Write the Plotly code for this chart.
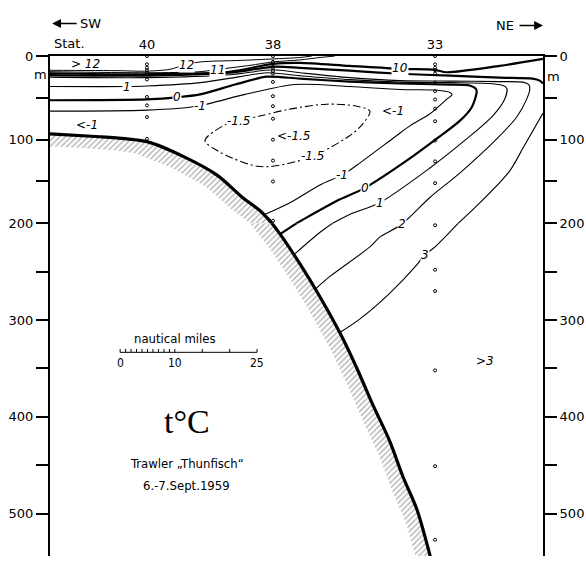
import plotly.graph_objects as go

# ---------------- data (x: nautical miles from left edge, depth: m) ----------------
stations = ["40", "38", "33"]
station_x = [17.7, 40.7, 70.3]
st40_depths = [0, 10, 14, 17, 20, 28, 49, 59, 73, 99]
st38_depths = [0, 7, 10, 14, 18, 21, 31, 48, 60, 75, 100, 125, 150, 197]
st33_depths = [0, 10, 14, 17, 21, 32, 42, 52, 63, 78, 101, 126, 152, 202, 248, 270, 352, 451, 527]

sea_x = [0, 9.1, 13.7, 17.7, 24.3, 30.5, 35.2, 38.3, 42.0, 45.6, 48.9, 52.9, 56.0, 58.9, 62.0, 64.4, 67.0, 69.5]
sea_d = [93, 96.5, 98.8, 102.4, 120, 142.4, 169.4, 184.7, 211.2, 241.7, 272.2, 312.9, 349.5, 387.2, 424.8, 461.4, 496, 546]

iso12_x = [0, 12.8, 17.3, 21.9, 24.6, 27.4, 34.7, 40.7, 45.6, 47.8]
iso12_d = [17.1, 17.6, 18.2, 15.9, 10.6, 7.1, 5.3, 3.5, 1.8, 0]

iso11_x = [0, 17.7, 27.4, 30.1, 36.5, 40.7, 45.6, 49.3, 52.0]
iso11_d = [18.8, 20.0, 18.8, 16.5, 11.2, 7.1, 4.7, 1.8, 0]

iso10_x = [0, 17.7, 32.8, 40.7, 45.6, 54.7, 63.9, 70.3, 72.4, 82.1, 90]
iso10_d = [20.6, 21.8, 18.8, 9.4, 8.2, 11.8, 15.3, 16.5, 19.4, 11.8, 3.5]

iso3a_x = [0, 17.7, 32.8, 40.7, 45.6, 54.7, 63.9, 73.0, 82.1, 88.1, 89.4, 90]
iso3a_d = [22.9, 23.5, 20.0, 12.9, 14.1, 17.6, 21.2, 23.5, 25.9, 27.1, 29.4, 32.9]

iso3b_x = [90, 86.3, 83.9, 78.5, 70.3, 68.4, 67.0, 62.0, 56.6, 52.9]
iso3b_d = [68.2, 110.6, 137.6, 175.3, 224.4, 232.6, 242.7, 272.3, 298.7, 312.9]

iso2_x = [0, 17.7, 32.8, 40.7, 45.6, 54.7, 63.9, 73.0, 82.1, 86.3, 87.4, 87.6, 87.0, 85.2,
          81.6, 74.8, 69.3, 64.2, 60.2, 58.4, 51.1, 48.4]
iso2_d = [25.3, 25.9, 22.4, 16.5, 20.0, 25.9, 29.4, 30.0, 30.6, 31.2, 34.1, 38.8, 51.8, 72.9,
          98.8, 140.0, 169.4, 201.0, 214.2, 224.4, 254.9, 268.2]

iso1_x = [0, 14.1, 17.7, 27.4, 34.7, 39.6, 45.6, 54.7, 63.9, 73.0, 80.3, 82.7, 83.4, 83.0,
          80.8, 76.1, 69.3, 60.2, 54.7, 49.8, 44.7]
iso1_d = [36.5, 36.5, 35.9, 31.8, 24.7, 20.0, 23.5, 28.2, 31.2, 31.8, 32.9, 35.3, 38.8, 51.8,
          71.8, 98.8, 134.1, 175.3, 189.4, 207.1, 231.5]

iso0_x = [0, 17.7, 23.2, 27.4, 33.8, 39.6, 45.6, 54.7, 63.9, 73.0, 76.6, 77.7, 77.9, 77.0,
          74.8, 70.6, 65.7, 57.5, 52.4, 46.9, 42.0]
iso0_d = [52.9, 51.8, 49.4, 45.9, 34.1, 24.7, 27.1, 30.6, 32.9, 34.1, 35.3, 38.8, 42.4, 61.2,
          77.6, 98.8, 122.4, 157.6, 172.9, 192.9, 211.2]

isom1_x = [0, 17.7, 26.8, 35.6, 44.7, 54.7, 63.9, 71.2, 73.0, 73.4, 72.4, 69.3, 65.7, 63.0,
           56.0, 53.3, 49.3, 43.8, 39.2]
isom1_d = [65.9, 64.7, 60.0, 45.9, 34.1, 36.5, 40.0, 41.2, 43.5, 45.9, 51.8, 69.4, 83.5, 96.5,
           130.6, 142.4, 154.1, 175.3, 189.4]

isom15_x = [28.3, 32.3, 38.3, 43.8, 50.5, 56.0, 58.4, 57.1, 54.7, 48.0, 45.1, 40.7, 37.8, 33.4, 30.5, 28.3]
isom15_d = [101.2, 81.2, 71.8, 63.5, 57.6, 60.0, 65.9, 81.2, 95.3, 120.0, 125.9, 131.8, 131.8, 122.4, 112.9, 101.2]

# contour labels: (text, x, depth, on-line?)
iso_labels = [
    ("&gt; 12", 6.4, 9.4, False),
    ("12", 25.0, 10.6, True),
    ("11", 30.5, 16.5, True),
    ("10", 63.9, 14.1, True),
    ("1", 14.1, 36.5, True),
    ("0", 23.2, 49.4, True),
    ("-1", 27.4, 60.0, True),
    ("&lt;-1", 6.8, 82.4, False),
    ("-1.5", 34.5, 77.6, True),
    ("&lt;-1.5", 44.5, 95.3, False),
    ("-1.5", 48.0, 120.0, True),
    ("&lt;-1", 62.6, 65.9, False),
    ("-1", 53.3, 142.4, True),
    ("0", 57.5, 157.6, True),
    ("1", 60.2, 175.3, True),
    ("2", 64.2, 201.0, True),
    ("3", 68.4, 232.6, True),
    ("&gt;3", 79.4, 342.6, False),
]

scale_ticks_nm = [0, 1, 2, 3, 4, 5, 6, 7, 8, 9, 10, 15, 20, 25]
scale_labels = ["0", "10", "25"]
scale_label_nm = [0, 10, 25]

depth_ticks_top = [0, 50, 100, 150, 200]
depth_text_top = ["0", "", "100", "", "200"]
depth_ticks_bot = [250, 300, 350, 400, 450, 500]
depth_text_bot = ["", "300", "", "400", "", "500"]

# ---------------- figure ----------------
TOP_D = [200, 0]
BOT_D = [543.8, 200]
SPLIT = 338 / 508

fig = go.Figure()


def both(x, y, **kw):
    for ax in ("y", "y2"):
        fig.add_trace(go.Scatter(x=x, y=y, yaxis=ax, xaxis="x", hoverinfo="skip",
                                 showlegend=False, **kw))


# hatched sea-floor band
band_dx, band_dd = -2.0, 14.0
band_x = sea_x + [v + band_dx for v in sea_x[::-1]]
band_d = sea_d + [v + band_dd for v in sea_d[::-1]]
both(band_x, band_d, mode="lines", line=dict(width=0, color="rgba(0,0,0,0)"),
     fill="toself", fillcolor="rgba(0,0,0,0)",
     fillpattern=dict(shape="/", fgcolor="#666666", bgcolor="white", size=4, solidity=0.35))

thin = dict(color="black", width=1.1, shape="spline", smoothing=0.8)
thick = dict(color="black", width=2.2, shape="spline", smoothing=0.8)

both(iso12_x, iso12_d, mode="lines", line=dict(thin, width=1.0))
both(iso11_x, iso11_d, mode="lines", line=dict(thin, width=1.0))
both(iso10_x, iso10_d, mode="lines", line=thick)
both(iso3a_x, iso3a_d, mode="lines", line=thick)
both(iso3b_x, iso3b_d, mode="lines", line=thin)
both(iso2_x, iso2_d, mode="lines", line=thin)
both(iso1_x, iso1_d, mode="lines", line=thin)
both(iso0_x, iso0_d, mode="lines", line=thick)
both(isom1_x, isom1_d, mode="lines", line=thin)
both(isom15_x, isom15_d, mode="lines",
     line=dict(color="black", width=1.1, shape="spline", smoothing=0.9, dash="8px,3px,2px,3px"))

# sea floor
both(sea_x, sea_d, mode="lines", line=dict(color="black", width=3.2, shape="spline", smoothing=0.8))

# station sample dots (on the right overlay axes)
for sx, depths in zip(station_x, [st40_depths, st38_depths, st33_depths]):
    for ax in ("y3", "y4"):
        fig.add_trace(go.Scatter(x=[sx] * len(depths), y=depths, yaxis=ax, xaxis="x",
                                 mode="markers", hoverinfo="skip", showlegend=False,
                                 marker=dict(symbol="circle-open", size=3, color="black",
                                             line=dict(width=1, color="black"))))

# scale bar
bar_x0, bar_d, tick_h = 12.8, 333.3, 3.5
sb_x = [bar_x0, bar_x0 + scale_ticks_nm[-1]]
sb_d = [bar_d, bar_d]
fig.add_trace(go.Scatter(x=sb_x, y=sb_d, yaxis="y2", mode="lines", hoverinfo="skip",
                         showlegend=False, line=dict(color="black", width=1)))
tx, td = [], []
for t in scale_ticks_nm:
    tx += [bar_x0 + t, bar_x0 + t, None]
    td += [bar_d, bar_d - tick_h, None]
fig.add_trace(go.Scatter(x=tx, y=td, yaxis="y2", mode="lines", hoverinfo="skip",
                         showlegend=False, line=dict(color="black", width=1)))

anns = []
lab_font = dict(family="DejaVu Sans", size=12, color="black", style="italic")
for text, x, d, online in iso_labels:
    anns.append(dict(x=x, y=d, xref="x", yref="y" if d <= 200 else "y2", text=text,
                     showarrow=False, font=lab_font, yanchor="middle",
                     bgcolor="white" if online else None, borderpad=0))

cond = "DejaVu Sans Condensed, DejaVu Sans"
for lbl, v in zip(scale_labels, scale_label_nm):
    anns.append(dict(x=bar_x0 + v, y=344.5, xref="x", yref="y2", text=lbl, showarrow=False,
                     yanchor="middle", font=dict(family=cond, size=12)))
anns.append(dict(x=bar_x0 + 10, y=319, xref="x", yref="y2", text="nautical miles",
                 showarrow=False, yanchor="middle", font=dict(family=cond, size=13)))
anns.append(dict(x=25.0, y=404.5, xref="x", yref="y2", text="t°C", showarrow=False,
                 yanchor="middle", font=dict(family="Liberation Serif, DejaVu Serif", size=34)))
anns.append(dict(x=25.0, y=448.3, xref="x", yref="y2", text="Trawler „Thunfisch“",
                 showarrow=False, yanchor="middle", font=dict(family=cond, size=13)))
anns.append(dict(x=25.0, y=470.7, xref="x", yref="y2", text="6.-7.Sept.1959",
                 showarrow=False, yanchor="middle", font=dict(family=cond, size=13)))

hdr = dict(family="DejaVu Sans", size=13, color="black")
anns += [
    dict(x=0.4, y=1.0256, xref="x", yref="paper", text="Stat.", showarrow=False,
         xanchor="left", yanchor="middle", font=hdr),
    dict(x=0.4, y=1.065, xref="x", yref="paper", text="", showarrow=True, ax=26, ay=0,
         arrowhead=2, arrowsize=1.1, arrowwidth=1.6, arrowcolor="black"),
    dict(x=5.2, y=1.065, xref="x", yref="paper", text="SW", showarrow=False,
         xanchor="left", yanchor="middle", font=hdr),
    dict(x=90, y=1.061, xref="x", yref="paper", text="", showarrow=True, ax=-25, ay=0,
         arrowhead=2, arrowsize=1.1, arrowwidth=1.6, arrowcolor="black"),
    dict(x=85.0, y=1.061, xref="x", yref="paper", text="NE", showarrow=False,
         xanchor="right", yanchor="middle", font=hdr),
    dict(x=-0.036, y=0.964, xref="paper", yref="paper", text="m", showarrow=False,
         yanchor="middle", font=hdr),
    dict(x=1.039, y=0.960, xref="paper", yref="paper", text="m", showarrow=False,
         yanchor="middle", font=hdr),
]

yax_common = dict(showline=True, linewidth=2, linecolor="black", ticks="outside", ticklen=12,
                  tickwidth=1.5, tickcolor="black", showgrid=False, zeroline=False,
                  tickfont=dict(family="DejaVu Sans", size=13, color="black"), anchor="x")

fig.update_layout(
    width=586, height=564,
    margin=dict(l=50, r=43, t=56, b=0),
    paper_bgcolor="white", plot_bgcolor="white",
    font=dict(family="DejaVu Sans", size=13, color="black"),
    showlegend=False,
    xaxis=dict(range=[0, 90], domain=[0, 1], anchor="y", side="top", showline=True,
               linewidth=1.5, linecolor="black", ticks="", tickvals=station_x,
               ticktext=stations, showgrid=False, zeroline=False,
               tickfont=dict(family="DejaVu Sans", size=13, color="black")),
    yaxis=dict(yax_common, domain=[SPLIT, 1], range=TOP_D, tickvals=depth_ticks_top,
               ticktext=depth_text_top),
    yaxis2=dict(yax_common, domain=[0, SPLIT], range=BOT_D, tickvals=depth_ticks_bot,
                ticktext=depth_text_bot),
    yaxis3=dict(yax_common, overlaying="y", side="right", range=TOP_D,
                tickvals=depth_ticks_top, ticktext=depth_text_top),
    yaxis4=dict(yax_common, overlaying="y2", side="right", range=BOT_D,
                tickvals=depth_ticks_bot, ticktext=depth_text_bot),
    annotations=anns,
)

fig.write_html("out.html")
